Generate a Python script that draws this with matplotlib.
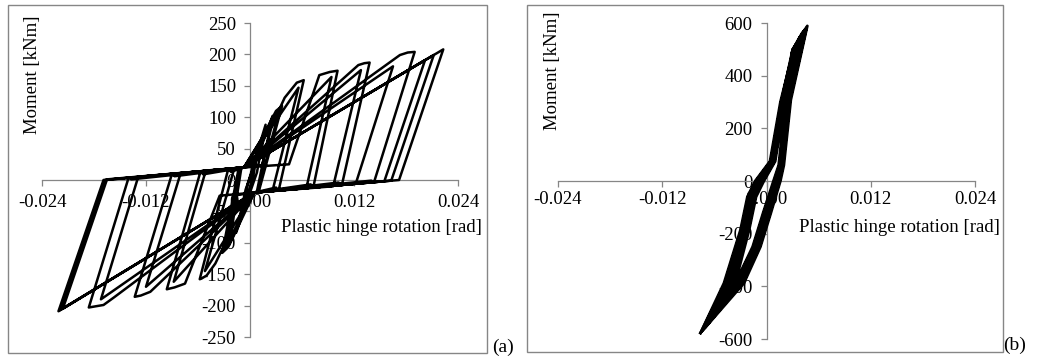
import matplotlib.pyplot as plt
from matplotlib.patches import Rectangle

plt.rcParams['font.family'] = ['Liberation Serif', 'DejaVu Serif']

# ---- panel (a): hysteresis path (plastic hinge rotation [rad], moment [kNm]) ----
rot_a = [0.0, 0.0010, 0.0004, -0.0009, -0.0003, 0.0018, 0.0008, -0.0016, -0.0005,
         0.0026, 0.0008, 0.0005, -0.0024, -0.0010, -0.0007,
         0.0012, 0.0030, 0.0037, 0.0010, 0.0005,
         -0.0010, -0.0026, -0.0032, -0.0013, -0.0007,
         0.0034, 0.0009, 0.0005, -0.0030, -0.0012, -0.0007,
         0.0014, 0.0025, 0.0040, 0.0054, 0.0060, 0.0062, 0.0033, 0.0030, 0.0005,
         -0.0015, -0.0025, -0.0040, -0.0050, -0.0056, -0.0058, -0.0025, -0.0022, -0.0007,
         0.0056, 0.0026, 0.0005, -0.0052, -0.0018, -0.0007,
         0.0045, 0.0080, 0.0092, 0.0101, 0.0073, 0.0070, 0.0005,
         -0.0035, -0.0075, -0.0087, -0.0096, -0.0057, -0.0054, -0.0007,
         0.0094, 0.0065, 0.0005, -0.0088, -0.0051, -0.0007,
         0.0125, 0.0132, 0.0138, 0.0106, 0.0102, 0.0005,
         -0.0115, -0.0126, -0.0133, -0.0090, -0.0087, -0.0007,
         0.0128, 0.0096, 0.0005, -0.0120, -0.0080, -0.0007,
         0.0173, 0.0182, 0.0190, 0.0143, 0.0140, 0.0005,
         -0.0157, -0.0169, -0.0186, -0.0140, -0.0137, -0.0007,
         0.0165, 0.0122, 0.0005, -0.0172, -0.0129, -0.0007,
         0.0223, 0.0172, 0.0005, -0.0221, -0.0169, -0.0007,
         0.0212, 0.0163, 0.0005, -0.0219, -0.0167, -0.0007,
         0.0202, 0.0155, 0.0005, -0.0216, -0.0165, -0.0007]
mom_a = [0, 55, 8, -52, -8, 88, 12, -84, -15,
         102, -18, -20, -104, 19, 20,
         62, 110, 118, -19, -20,
         -60, -108, -116, 19, 20,
         112, -19, -20, -110, 19, 20,
         24, 86, 131, 155, 158, 159, -17, -12, -20,
         -24, -90, -133, -152, -157, -158, 18, 13, 20,
         147, -17, -20, -145, 19, 20,
         25, 167, 172, 174, -12, -7, -20,
         -25, -165, -171, -174, 14, 9, 20,
         164, -13, -20, -162, 15, 20,
         183, 186, 187, -8, -4, -20,
         -178, -184, -186, 10, 6, 20,
         175, -10, -20, -170, 11, 20,
         199, 203, 204, -4, -1, -20,
         -187, -199, -203, 4, 1, 20,
         181, -6, -20, -190, 5, 20,
         208, 0, -20, -209, 0, 20,
         199, -1, -20, -207, 0, 20,
         191, -2, -20, -205, 1, 20]

# ---- panel (b): moment levels of each cycle and the rotations read at them ----
# levels: neg. tip, -388, -186, -60, 0, 75, 300, 498, pos. tip, 308, 60, 0, -122, -250, -388
levels_b = [None, -388, -186, -60, 0, 75, 300, 498, None, 308, 60, 0, -122, -250, -388]
tips_pos_b = [589, 575, 566, 555, 545, 582, 562, 530, 578, 570, 550, 535]
tips_neg_b = [-577, -566, -558, -545, -535, -572, -552, -520, -568, -548, -560, -530]
cycles_b = [
    [-0.0076, -0.0049, -0.0030, -0.0022, -0.0013, 0.0004, 0.0016, 0.0031, 0.0047, 0.0028, 0.0020, 0.0016, 0.0005, -0.0007, -0.0026],
    [-0.0073, -0.0046, -0.0027, -0.0019, -0.0010, 0.0006, 0.0018, 0.0032, 0.0044, 0.0026, 0.0018, 0.0014, 0.0003, -0.0009, -0.0029],
    [-0.0071, -0.0043, -0.0025, -0.0017, -0.0008, 0.0007, 0.0019, 0.0032, 0.0042, 0.0025, 0.0017, 0.0012, 0.0001, -0.0011, -0.0031],
    [-0.0068, -0.0040, -0.0023, -0.0015, -0.0006, 0.0008, 0.0020, 0.0031, 0.0040, 0.0024, 0.0016, 0.0010, -0.0001, -0.0013, -0.0033],
    [-0.0066, -0.0038, -0.0021, -0.0013, -0.0004, 0.0009, 0.0021, 0.0031, 0.0038, 0.0023, 0.0015, 0.0009, -0.0003, -0.0015, -0.0035],
    [-0.0075, -0.0047, -0.0028, -0.0020, -0.0011, 0.0005, 0.0017, 0.0032, 0.0046, 0.0027, 0.0019, 0.0015, 0.0004, -0.0008, -0.0028],
    [-0.0070, -0.0044, -0.0026, -0.0018, -0.0009, 0.0006, 0.0018, 0.0031, 0.0041, 0.0025, 0.0017, 0.0013, 0.0002, -0.0010, -0.0030],
    [-0.0064, -0.0036, -0.0020, -0.0012, -0.0003, 0.0010, 0.0021, 0.0030, 0.0036, 0.0022, 0.0014, 0.0008, -0.0004, -0.0016, -0.0036],
    [-0.0074, -0.0045, -0.0026, -0.0018, -0.0009, 0.0007, 0.0019, 0.0033, 0.0045, 0.0026, 0.0018, 0.0013, 0.0002, -0.0010, -0.0031],
    [-0.0069, -0.0041, -0.0024, -0.0016, -0.0007, 0.0008, 0.0020, 0.0032, 0.0043, 0.0024, 0.0016, 0.0011, 0.0000, -0.0012, -0.0034],
    [-0.0072, -0.0048, -0.0029, -0.0021, -0.0012, 0.0005, 0.0017, 0.0030, 0.0039, 0.0027, 0.0019, 0.0014, 0.0003, -0.0009, -0.0027],
    [-0.0067, -0.0039, -0.0022, -0.0014, -0.0005, 0.0009, 0.0020, 0.0030, 0.0037, 0.0023, 0.0015, 0.0010, -0.0002, -0.0014, -0.0034],
]

rot_b, mom_b = [], []
for cyc, pt, nt in zip(cycles_b, tips_pos_b, tips_neg_b):
    rot_b += cyc
    mom_b += [nt] + levels_b[1:8] + [pt] + levels_b[9:]
rot_b.append(cycles_b[0][0])
mom_b.append(tips_neg_b[0])

xticks = [-0.024, -0.012, 0.0, 0.012, 0.024]
yticks_a = [-250, -200, -150, -100, -50, 0, 50, 100, 150, 200, 250]
yticks_b = [-600, -400, -200, 0, 200, 400, 600]

W, H = 1038, 363
grey = '#868686'


def box(x0, y0, x1, y1):
    return [x0 / W, 1 - y1 / H, (x1 - x0) / W, (y1 - y0) / H]


def style(ax, yticks, xpad):
    ax.set_xlim(-0.024, 0.024)
    ax.set_ylim(yticks[0], yticks[-1])
    ax.spines['top'].set_visible(False)
    ax.spines['right'].set_visible(False)
    ax.spines['left'].set_position(('data', 0))
    ax.spines['bottom'].set_position(('data', 0))
    for s in ['left', 'bottom']:
        ax.spines[s].set_color(grey)
        ax.spines[s].set_linewidth(0.9)
    ax.set_xticks(xticks)
    ax.set_xticklabels(['{:.3f}'.format(v) for v in xticks])
    ax.set_yticks(yticks)
    ax.set_yticklabels([str(v) for v in yticks])
    ax.tick_params(direction='out', length=4, width=0.9, color=grey, labelsize=13.5, pad=6)
    ax.tick_params(axis='x', pad=xpad)
    ax.patch.set_alpha(0)


fig = plt.figure(figsize=(10.38, 3.63), dpi=100)

ax_a = fig.add_axes(box(42, 23, 458, 337))
style(ax_a, yticks_a, 6)
ax_a.plot(rot_a, mom_a, color='black', lw=1.8, zorder=3, solid_joinstyle='round')

ax_b = fig.add_axes(box(558, 23, 975, 339))
style(ax_b, yticks_b, 3)
ax_b.plot(rot_b, mom_b, color='black', lw=2.0, zorder=3, solid_joinstyle='round')

# chart frames
for x0, y0, x1, y1 in [(8, 5, 487, 353), (527, 5, 1003, 352)]:
    fig.add_artist(Rectangle((x0 / W, 1 - y1 / H), (x1 - x0) / W, (y1 - y0) / H,
                             transform=fig.transFigure, fill=False, edgecolor=grey, lw=1))

# axis titles
fig.text(33 / W, 1 - 75 / H, 'Moment [kNm]', rotation=90, ha='center', va='center', fontsize=13.5)
fig.text(552 / W, 1 - 71 / H, 'Moment [kNm]', rotation=90, ha='center', va='center', fontsize=13.5)
fig.text(482 / W, 1 - 228 / H, 'Plastic hinge rotation [rad]', ha='right', va='center', fontsize=13.5)
fig.text(1000 / W, 1 - 227 / H, 'Plastic hinge rotation [rad]', ha='right', va='center', fontsize=13.5)

fig.text(503 / W, 1 - 347 / H, '(a)', ha='center', va='center', fontsize=14)
fig.text(1015 / W, 1 - 345 / H, '(b)', ha='center', va='center', fontsize=14)

fig.savefig('out.png', dpi=100)
